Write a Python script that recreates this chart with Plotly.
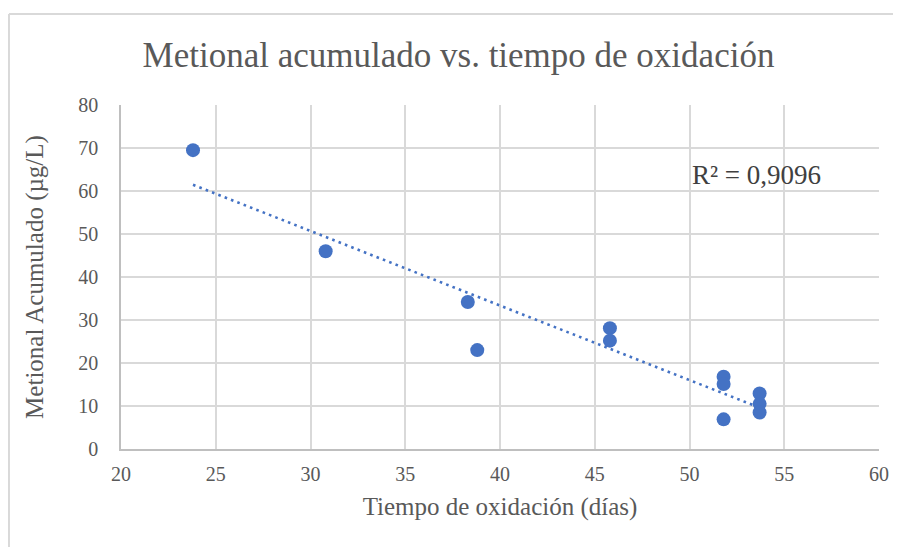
import numpy as np
import plotly.graph_objects as go

dias = [23.8, 30.8, 38.3, 38.8, 45.8, 45.8, 51.8, 51.8, 51.8, 53.7, 53.7, 53.7]
metional = [69.5, 46.0, 34.2, 23.0, 28.1, 25.2, 16.8, 15.1, 6.9, 12.9, 10.5, 8.5]
r2_label = "R² = 0,9096"
title = "Metional acumulado vs. tiempo de oxidación"
x_title = "Tiempo de oxidación (días)"
y_title = "Metional Acumulado (µg/L)"

x = np.array(dias)
y = np.array(metional)
m, b = np.polyfit(x, y, 1)
xt = np.array([x.min(), x.max()])
yt = m * xt + b

FONT = "Liberation Serif"
BLUE = "#4472C4"
GRID = "#d9d9d9"

fig = go.Figure()
fig.add_trace(go.Scatter(x=xt, y=yt, mode="lines",
                         line=dict(color=BLUE, width=2.6, dash="2.6px,4.2px"),
                         showlegend=False, hoverinfo="skip"))
fig.add_trace(go.Scatter(x=dias, y=metional, mode="markers",
                         marker=dict(color=BLUE, size=14),
                         showlegend=False))

fig.update_layout(
    width=901, height=547,
    margin=dict(l=113, r=30, t=97, b=106),
    paper_bgcolor="white", plot_bgcolor="white",
    font=dict(family=FONT, color="#595959"),
    title=dict(text=title, x=0.5, xanchor="center", y=0.914, yanchor="middle",
               font=dict(family=FONT, size=35, color="#595959")),
    xaxis=dict(range=[20, 60], dtick=5, tick0=20, showgrid=True, gridcolor=GRID,
               gridwidth=1.5, zeroline=False, showline=True, linecolor="#bfbfbf",
               linewidth=1.5, mirror=False, ticks="", tickfont=dict(size=20),
               ticklabelstandoff=6,
               title=dict(text=x_title, font=dict(size=25), standoff=14)),
    yaxis=dict(range=[0, 80], dtick=10, showgrid=True, gridcolor=GRID,
               gridwidth=1.5, zeroline=False, showline=True, linecolor="#bfbfbf",
               linewidth=1.5, ticks="", tickfont=dict(size=20),
               ticklabelstandoff=17,
               title=dict(text=y_title, font=dict(size=25), standoff=28)),
    annotations=[dict(text=r2_label, x=50.0, y=63.7, xref="x", yref="y",
                      xanchor="left", yanchor="middle", showarrow=False,
                      font=dict(family=FONT, size=27, color="#404040"))],
    shapes=[
        dict(type="line", xref="paper", yref="paper", x0=-0.1478, x1=-0.1478,
             y0=-0.35, y1=1.2645, line=dict(color=GRID, width=2)),
        dict(type="line", xref="paper", yref="paper", x0=-0.1478, x1=1.1,
             y0=1.2645, y1=1.2645, line=dict(color=GRID, width=2)),
    ],
)

fig.write_html("out.html")
